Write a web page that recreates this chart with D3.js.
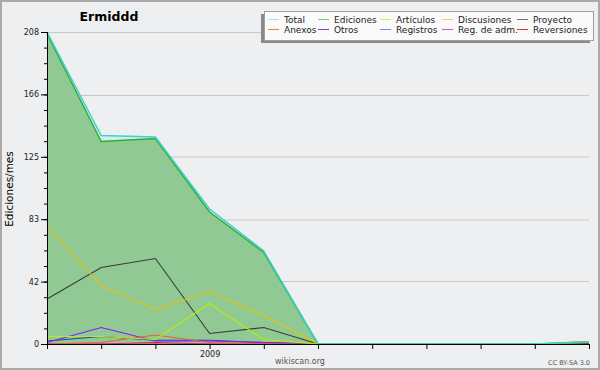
<!DOCTYPE html>
<html>
<head>
<meta charset="utf-8">
<script src="https://cdn.jsdelivr.net/npm/d3@7"></script>
<style>
  body { margin: 0; background: #ffffff; }
  text { font-family: "DejaVu Sans", sans-serif; }
</style>
</head>
<body>
<script>

// months shown on the x axis, only January gets the year label
var months = ["2008-10", "2008-11", "2008-12", "2009-01", "2009-02", "2009-03",
              "2009-04", "2009-05", "2009-06", "2009-07", "2009-08"];
var tickLabels = ["", "", "", "2009", "", "", "", "", "", "", ""];
var yTicks = [0, 42, 83, 125, 166, 208];

// values per series, edits per month
var total       = [208, 139, 138, 90, 62, 0, 0, 0, 0, 0, 1.5];
var ediciones   = [207, 135, 137, 88, 61, 0, 0, 0, 0, 0, 1.5];
var articulos   = [5, 5, 3, 27, 3, 0, 0, 0, 0, 0, 1];
var discusiones = [79, 39, 23, 35, 19, 0, 0, 0, 0, 0, 1.5];
var proyecto    = [30, 51, 57, 7, 11, 0, 0, 0, 0, 0, 0];
var anexos      = [0, 1, 6, 1, 0, 0, 0, 0, 0, 0, 0];
var otros       = [1, 11, 2, 2, 1, 0, 0, 0, 0, 0, 0];
var registros   = [2, 5, 2.5, 2.5, 1, 0, 0, 0, 0, 0, 0];
var regAdm      = [0, 0, 0, 0, 0, 0, 0, 0, 0, 0, 0];
var reversiones = [0, 0, 1, 0, 0, 0, 0, 0, 0, 0, 0];

var series = [
  {name: "Total", values: total, color: "#3fd0d0", legend: "#a8e4e4"},
  {name: "Ediciones", values: ediciones, color: "#2fb02f", legend: "#80c880"},
  {name: "Artículos", values: articulos, color: "#b8f000", legend: "#d0f060"},
  {name: "Discusiones", values: discusiones, color: "#f0c000", legend: "#f8d060"},
  {name: "Proyecto", values: proyecto, color: "#3a3a3a", legend: "#707070"},
  {name: "Anexos", values: anexos, color: "#f06020", legend: "#f08040"},
  {name: "Otros", values: otros, color: "#8020f0", legend: "#8040e0"},
  {name: "Registros", values: registros, color: "#3030f0", legend: "#8080f0"},
  {name: "Reg. de adm.", values: regAdm, color: "#d030e0", legend: "#d050e0"},
  {name: "Reversiones", values: reversiones, color: "#e02020", legend: "#e03030"}
];

var width = 600, height = 370;
var margin = {top: 32, right: 11, bottom: 26, left: 47};
var plotW = width - margin.left - margin.right;
var plotH = height - margin.top - margin.bottom;

var svg = d3.select("body").append("svg")
    .attr("width", width)
    .attr("height", height);

// background and frame
svg.append("rect")
    .attr("x", 1).attr("y", 1)
    .attr("width", width - 2).attr("height", height - 2)
    .attr("fill", "#eeeff0")
    .attr("stroke", "#aaaaaa")
    .attr("stroke-width", 2);

var x = d3.scalePoint().domain(months).range([0, plotW]);
var y = d3.scaleLinear().domain([0, 208]).range([plotH, 0]);

var g = svg.append("g")
    .attr("transform", "translate(" + margin.left + "," + margin.top + ")");

// horizontal grid
g.selectAll(".grid")
    .data(yTicks.filter(function(d) { return d > 0; }))
    .enter().append("line")
    .attr("x1", 0).attr("x2", plotW)
    .attr("y1", function(d) { return y(d) + 0.5; })
    .attr("y2", function(d) { return y(d) + 0.5; })
    .attr("stroke", "#c8c8c8");

// areas for total and ediciones
var area = d3.area()
    .x(function(d, i) { return x(months[i]); })
    .y0(plotH)
    .y1(function(d) { return y(d); });

g.append("path").datum(total)
    .attr("d", area)
    .attr("fill", "#d4eeee");

g.append("path").datum(ediciones)
    .attr("d", area)
    .attr("fill", "#90c993");

var line = d3.line()
    .x(function(d, i) { return x(months[i]); })
    .y(function(d) { return y(d); });

// draw small series first, total and ediciones on top
var order = series.slice(2).reverse().concat([series[1], series[0]]);
order.forEach(function(s) {
  g.append("path").datum(s.values)
    .attr("d", line)
    .attr("fill", "none")
    .attr("stroke", s.color)
    .attr("stroke-width", (s.name == "Total" || s.name == "Ediciones") ? 1.5 : 1.1);
});

// y axis with minor ticks
var yAxis = d3.axisLeft(y)
    .tickValues(d3.range(0, 208.1, 10.4))
    .tickSize(3)
    .tickFormat("");
g.append("g").call(yAxis)
    .call(function(a) { a.select(".domain").remove(); });

var yAxisMajor = d3.axisLeft(y)
    .tickValues(yTicks.map(function(d, i) { return i * 41.6; }))
    .tickSize(6)
    .tickPadding(2)
    .tickFormat(function(d) { return Math.round(d); });
g.append("g").call(yAxisMajor)
    .call(function(a) {
      a.select(".domain").attr("d", "M0.5,0V" + plotH);
      a.selectAll("text").attr("font-size", "8px").attr("font-family", "DejaVu Sans").attr("fill", "#222");
    });

// x axis
var xAxis = d3.axisBottom(x)
    .tickSize(5)
    .tickPadding(2)
    .tickFormat(function(d, i) { return tickLabels[i]; });
g.append("g")
    .attr("transform", "translate(0," + plotH + ")")
    .call(xAxis)
    .call(function(a) {
      a.select(".domain").attr("d", "M0,0.5H" + plotW);
      a.selectAll("text").attr("font-size", "8px").attr("font-family", "DejaVu Sans").attr("fill", "#222");
    });

// title
svg.append("text")
    .attr("x", 109).attr("y", 21)
    .attr("text-anchor", "middle")
    .attr("font-size", "12.5px")
    .attr("font-weight", "bold")
    .text("Ermiddd");

// y axis label
svg.append("text")
    .attr("transform", "translate(13,189) rotate(-90)")
    .attr("text-anchor", "middle")
    .attr("font-size", "10.5px")
    .text("Ediciones/mes");

// footer texts
svg.append("text")
    .attr("x", 300).attr("y", 364)
    .attr("text-anchor", "middle")
    .attr("font-size", "8px")
    .attr("fill", "#555")
    .text("wikiscan.org");

svg.append("text")
    .attr("x", 590).attr("y", 365)
    .attr("text-anchor", "end")
    .attr("font-size", "6.5px")
    .attr("fill", "#555")
    .text("CC BY-SA 3.0");

// legend box with shadow
svg.append("rect")
    .attr("x", 261).attr("y", 14)
    .attr("width", 329).attr("height", 29)
    .attr("fill", "#8a8a8a");
svg.append("rect")
    .attr("x", 264.5).attr("y", 11.5)
    .attr("width", 329).attr("height", 29)
    .attr("fill", "#fafafa")
    .attr("stroke", "#a0a0a0");

var legendCols = [268, 318, 380, 442, 517];
var legendOrder = ["Total", "Ediciones", "Artículos", "Discusiones", "Proyecto",
                   "Anexos", "Otros", "Registros", "Reg. de adm.", "Reversiones"];
legendOrder.forEach(function(name, i) {
  var s = series.filter(function(d) { return d.name == name; })[0];
  var lx = legendCols[i % 5];
  var ly = i < 5 ? 19 : 29;
  svg.append("line")
      .attr("x1", lx).attr("x2", lx + 11)
      .attr("y1", ly + 0.5).attr("y2", ly + 0.5)
      .attr("stroke", s.legend);
  svg.append("text")
      .attr("x", lx + 16).attr("y", ly + 3.5)
      .attr("font-size", "9px")
      .attr("fill", "#222")
      .text(name);
});

</script>
</body>
</html>
